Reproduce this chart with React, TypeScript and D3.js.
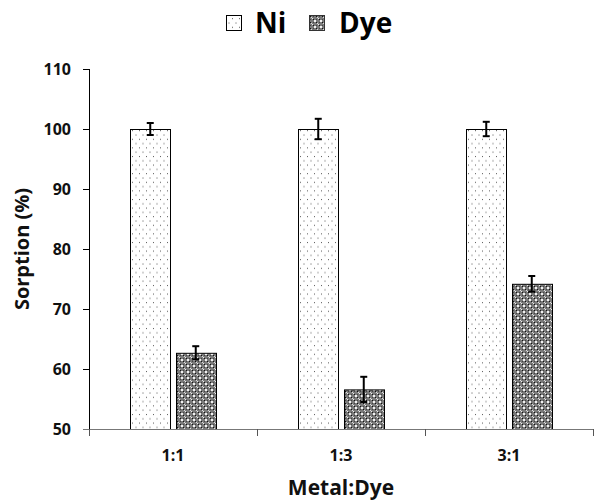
import React from 'react';
import * as d3 from 'd3';

const ratios = ['1:1', '1:3', '3:1'];
const series = ['Ni', 'Dye'];
const niValues = [100, 100, 100];
const niErrors = [1.0, 1.7, 1.2];
const dyeValues = [62.7, 56.6, 74.2];
const dyeErrors = [1.1, 2.1, 1.3];
const yTicks = [50, 60, 70, 80, 90, 100, 110];

const width = 610;
const height = 504;
const margin = { top: 69, right: 17, bottom: 75, left: 89 };
const font = "'Open Sans', 'Liberation Sans', sans-serif";

const App = () => {
  const innerW = width - margin.left - margin.right;
  const innerH = height - margin.top - margin.bottom;

  const x = d3.scaleBand().domain(ratios).range([0, innerW]).paddingInner(0).paddingOuter(0);
  const sub = d3.scaleBand().domain(series).range([41, x.bandwidth() - 41]).paddingInner(0.11);
  const y = d3.scaleLinear().domain([50, 110]).range([innerH, 0]);

  const rows = ratios.map((r, i) => [
    { key: 'Ni', r, v: niValues[i], e: niErrors[i] },
    { key: 'Dye', r, v: dyeValues[i], e: dyeErrors[i] },
  ]);

  const fillFor = (k: string) => (k === 'Ni' ? 'url(#dots)' : 'url(#check)');

  return (
    <svg width={width} height={height} style={{ display: 'block', position: 'absolute', left: 0, top: 0, background: '#fff' }}>
      <defs>
        <pattern id="dots" width="7" height="8.6" patternUnits="userSpaceOnUse">
          <rect width="7" height="8.6" fill="#fff" />
          <rect x="1" y="1" width="1" height="1" fill="#555" />
          <rect x="4.5" y="5.3" width="1" height="1" fill="#555" />
        </pattern>
        <pattern id="check" width="6" height="6" patternUnits="userSpaceOnUse">
          <rect width="6" height="6" fill="#7a7a7a" />
          <rect x="0" y="0" width="1" height="1" fill="#eee" />
          <rect x="2" y="2" width="2" height="2" fill="#f2f2f2" />
          <rect x="1" y="1" width="1" height="1" fill="#111" />
          <rect x="4" y="4" width="1" height="1" fill="#111" />
          <rect x="4" y="1" width="1" height="1" fill="#444" />
          <rect x="1" y="4" width="1" height="1" fill="#444" />
          <rect x="5" y="5" width="1" height="1" fill="#ddd" />
        </pattern>
      </defs>

      {/* legend */}
      <g fontFamily={font} fontWeight="bold" fontSize={28}>
        <rect x={226.5} y={15.5} width={15} height={15} fill="url(#dots)" stroke="#000" />
        <text x={255} y={33}>Ni</text>
        <rect x={309.5} y={15.5} width={15} height={15} fill="url(#check)" stroke="#333" />
        <text x={339} y={33}>Dye</text>
      </g>

      <g transform={`translate(${margin.left},${margin.top})`}>
        {/* bars */}
        {rows.map((pair) =>
          pair.map((d) => {
            const bx = (x(d.r) ?? 0) + (sub(d.key) ?? 0);
            const bw = sub.bandwidth();
            const cx = bx + bw / 2;
            return (
              <g key={d.r + d.key}>
                <rect
                  x={Math.round(bx) + 0.5}
                  y={y(d.v) + 0.5}
                  width={Math.round(bw)}
                  height={innerH - y(d.v)}
                  fill={fillFor(d.key)}
                  stroke="#000"
                  strokeWidth={1}
                />
                <g stroke="#000" strokeWidth={2}>
                  <line x1={cx} x2={cx} y1={y(d.v + d.e)} y2={y(d.v - d.e)} />
                  <line x1={cx - 3.5} x2={cx + 3.5} y1={y(d.v + d.e)} y2={y(d.v + d.e)} />
                  <line x1={cx - 3.5} x2={cx + 3.5} y1={y(d.v - d.e)} y2={y(d.v - d.e)} />
                </g>
              </g>
            );
          })
        )}

        {/* y axis */}
        <line x1={0.5} x2={0.5} y1={0} y2={innerH + 6} stroke="#000" />
        {yTicks.map((t) => (
          <g key={t} transform={`translate(0,${Math.round(y(t)) + 0.5})`}>
            <line x1={-6} x2={0} stroke="#000" />
            <text x={-18} dy="0.36em" textAnchor="end" fontFamily={font} fontWeight="bold" fontSize={16} fill="#111">
              {t}
            </text>
          </g>
        ))}

        {/* x axis */}
        <line x1={-6} x2={innerW} y1={innerH + 0.5} y2={innerH + 0.5} stroke="#777" strokeWidth={1.2} />
        {[...ratios.map((r) => x(r) ?? 0), innerW].map((p, i) => (
          <line key={i} x1={Math.round(p) + 0.5} x2={Math.round(p) + 0.5} y1={innerH} y2={innerH + 7} stroke="#555" />
        ))}
        {ratios.map((r) => (
          <text
            key={r}
            x={(x(r) ?? 0) + x.bandwidth() / 2}
            y={innerH + 32}
            textAnchor="middle"
            fontFamily={font}
            fontWeight="bold"
            fontSize={16}
            fill="#111"
          >
            {r}
          </text>
        ))}

        {/* axis titles */}
        <text
          x={innerW / 2}
          y={innerH + 66}
          textAnchor="middle"
          fontFamily={font}
          fontWeight="bold"
          fontSize={21}
          fill="#111"
        >
          Metal:Dye
        </text>
        <text
          transform={`translate(${-60},${innerH / 2}) rotate(-90)`}
          textAnchor="middle"
          fontFamily={font}
          fontWeight="bold"
          fontSize={20}
          fill="#111"
        >
          Sorption (%)
        </text>
      </g>
    </svg>
  );
};

export default App;
